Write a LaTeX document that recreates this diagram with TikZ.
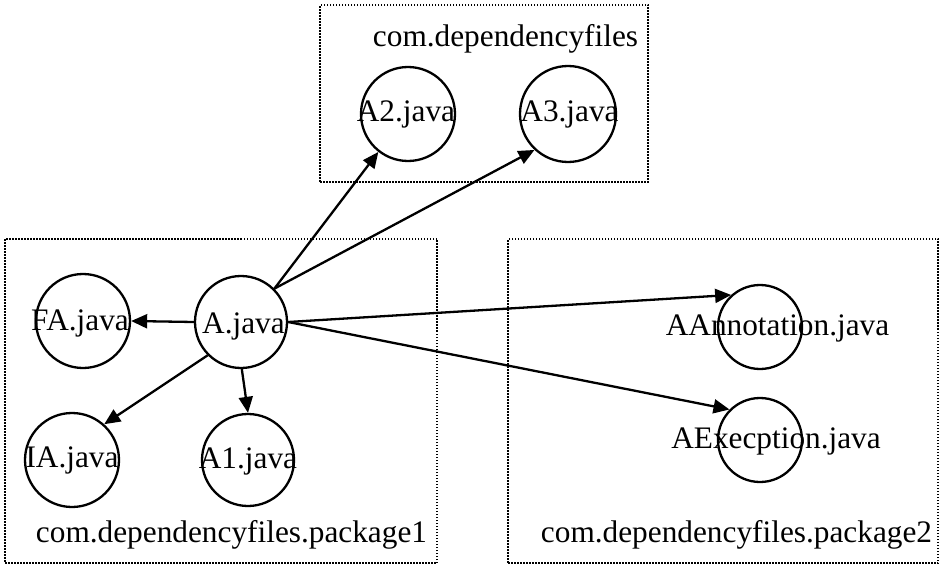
\documentclass[tikz,border=0pt]{standalone}
\usepackage{fontspec}
\setmainfont{Liberation Serif}
\usetikzlibrary{arrows.meta}
\begin{document}
\begin{tikzpicture}[x=1pt,y=-1pt,
  file/.style={circle,draw,line width=2.3pt,inner sep=0pt},
  lbl/.style={anchor=base,font=\fontsize{31.3}{36}\selectfont,inner sep=0pt},
  pkg/.style={draw,line width=1.9pt,dash pattern=on 1.5pt off 1.5pt,inner sep=0pt},
  dep/.style={line width=2.3pt,-{Triangle[length=16pt,width=14pt]}}]
\useasboundingbox (0,0) rectangle (945,567);
% package boxes
\node[pkg,minimum width=328pt,minimum height=177pt] (top) at (484,93.5) {};
\node[pkg,minimum width=432pt,minimum height=324pt] (p1) at (221,401) {};
\node[pkg,minimum width=430pt,minimum height=324pt] (p2) at (723,401) {};
\node[lbl] (ltop) at (505.5,47) {com.dependencyfiles};
\node[lbl] (lp1) at (231.5,542) {com.dependencyfiles.package1};
\node[lbl] (lp2) at (736.5,542) {com.dependencyfiles.package2};
% files
\node[file,minimum size=94pt] (a2) at (408,114) {};
\node[file,minimum size=96pt] (a3) at (568,114) {};
\node[file,minimum size=92pt] (a) at (241,322) {};
\node[file,minimum size=94pt] (fa) at (83,321) {};
\node[file,minimum size=94pt] (ia) at (72,460) {};
\node[file,minimum size=92pt] (a1) at (248,460) {};
\node[file,minimum size=84pt] (aann) at (760,327) {};
\node[file,minimum size=84pt] (aexe) at (760,440) {};
% file names
\node[lbl] (ta2) at (406,122) {A2.java};
\node[lbl] (ta3) at (569.5,122) {A3.java};
\node[lbl] (ta) at (243.5,333) {A.java};
\node[lbl] (tfa) at (80,330) {FA.java};
\node[lbl] (tia) at (72,467) {IA.java};
\node[lbl] (ta1) at (248,468) {A1.java};
\node[lbl] (taann) at (777.5,335) {AAnnotation.java};
\node[lbl] (taexe) at (776,448) {AExecption.java};
% dependencies
\draw[dep] (a.45) -- (a2.232);
\draw[dep] (a.45) -- (a3.227);
\draw[dep] (a.180) -- (fa.0);
\draw[dep] (a.225) -- (ia.48);
\draw[dep] (a.271) -- (a1.90);
\draw[dep] (a.0) -- (aann.132);
\draw[dep] (a.0) -- (aexe.135);
\end{tikzpicture}
\end{document}
